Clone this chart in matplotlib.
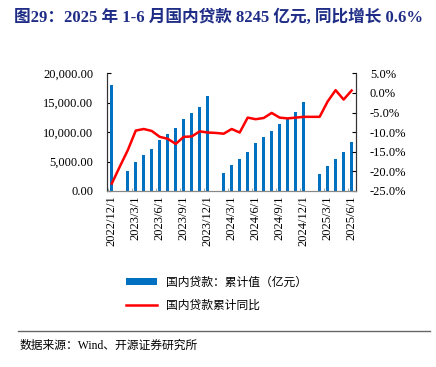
import matplotlib
matplotlib.use('Agg')
import matplotlib.pyplot as plt
import numpy as np
from matplotlib.ticker import FuncFormatter

# 数据：2022/12 - 2025/6 月度
months = ['2022/12/1', '2023/1/1', '2023/2/1', '2023/3/1', '2023/4/1', '2023/5/1', '2023/6/1',
          '2023/7/1', '2023/8/1', '2023/9/1', '2023/10/1', '2023/11/1', '2023/12/1',
          '2024/1/1', '2024/2/1', '2024/3/1', '2024/4/1', '2024/5/1', '2024/6/1',
          '2024/7/1', '2024/8/1', '2024/9/1', '2024/10/1', '2024/11/1', '2024/12/1',
          '2025/1/1', '2025/2/1', '2025/3/1', '2025/4/1', '2025/5/1', '2025/6/1']
loan_cum = [18000, np.nan, 3400, 4870, 6120, 7140, 8670, 9745, 10710, 12180, 13200, 14330, 16200,
            np.nan, 3000, 4420, 5440, 6690, 8100, 9120, 10140, 11390, 12350, 13370, 15180,
            np.nan, 2830, 4300, 5500, 6570, 8245]
loan_yoy = [-23.1, -18.8, -14.6, -9.6, -9.2, -9.7, -11.2, -11.7, -13.0, -11.2, -11.1, -9.8, -10.1,
            -10.2, -10.4, -9.2, -10.1, -6.3, -6.7, -6.4, -5.1, -6.3, -6.5, -6.3, -6.1,
            -6.1, -6.1, -2.2, 0.7, -1.7, 0.6]

serif = 'Liberation Serif'
cjk = ['Noto Sans CJK SC', 'DejaVu Sans']

fig = plt.figure(figsize=(4.36, 3.67), dpi=100)
ax = fig.add_axes([0.2454, 0.4796, 0.5711, 0.3207])
ax2 = ax.twinx()

x = np.arange(len(months))
bars = ax.bar(x, loan_cum, width=0.34, color='#0070C0', zorder=2)
line, = ax2.plot(x, loan_yoy, color='#FF0000', lw=1.8, zorder=3)

ax.set_xlim(-0.6, len(months) - 0.45)
ax.set_ylim(0, 20000)
ax.set_yticks(np.arange(0, 20001, 5000))
ax.yaxis.set_major_formatter(FuncFormatter(lambda v, p: f'{v:,.2f}'))
ax2.set_ylim(-25, 5)
ax2.set_yticks(np.arange(-25, 5.1, 5))
ax2.yaxis.set_major_formatter(FuncFormatter(lambda v, p: f'{v:.1f}%'))

# x轴标签：每3个月
ax.set_xticks(x[::3])
ax.set_xticklabels(months[::3], rotation=90, fontsize=9, family=serif)
ax.set_xticks(x[::3] - 0.5, minor=True)
ax.tick_params(axis='x', which='major', length=0, pad=3)
ax.tick_params(axis='x', which='minor', direction='in', length=2, color='#999999')

for a in (ax, ax2):
    a.spines['top'].set_visible(False)
    a.spines['bottom'].set_color('#888888')
    a.spines['left'].set_color('#333333')
    a.spines['right'].set_color('#333333')
    a.spines['left'].set_linewidth(0.8)
    a.spines['right'].set_linewidth(0.8)
ax.tick_params(axis='y', direction='in', length=3, labelsize=9, pad=10)
ax2.tick_params(axis='y', direction='in', length=3, labelsize=9, pad=10)
for lab in ax.get_yticklabels() + ax2.get_yticklabels():
    lab.set_family(serif)

# 标题
fig.text(0.5, 0.953, '图29：2025 年 1-6 月国内贷款 8245 亿元, 同比增长 0.6%',
         ha='center', va='center', fontsize=12, fontweight='bold', color='#1F2D86',
         family=[serif, 'Noto Sans CJK SC'])

# 图例
leg = fig.legend([bars, line], ['国内贷款：累计值（亿元）', '国内贷款累计同比'],
                 loc='upper left', bbox_to_anchor=(0.265, 0.278), frameon=False,
                 prop={'family': cjk, 'size': 8.5}, handlelength=2.6, labelspacing=0.9,
                 handleheight=0.6)

# 分割线和来源
fig.add_artist(plt.Line2D([0.042, 0.986], [0.098, 0.098], color='#666666', lw=1.0))
fig.text(0.044, 0.058, '数据来源：Wind、开源证券研究所', ha='left', va='center',
         fontsize=8.5, family=[serif, 'Noto Sans CJK SC'])

fig.savefig('out.png', dpi=100)
